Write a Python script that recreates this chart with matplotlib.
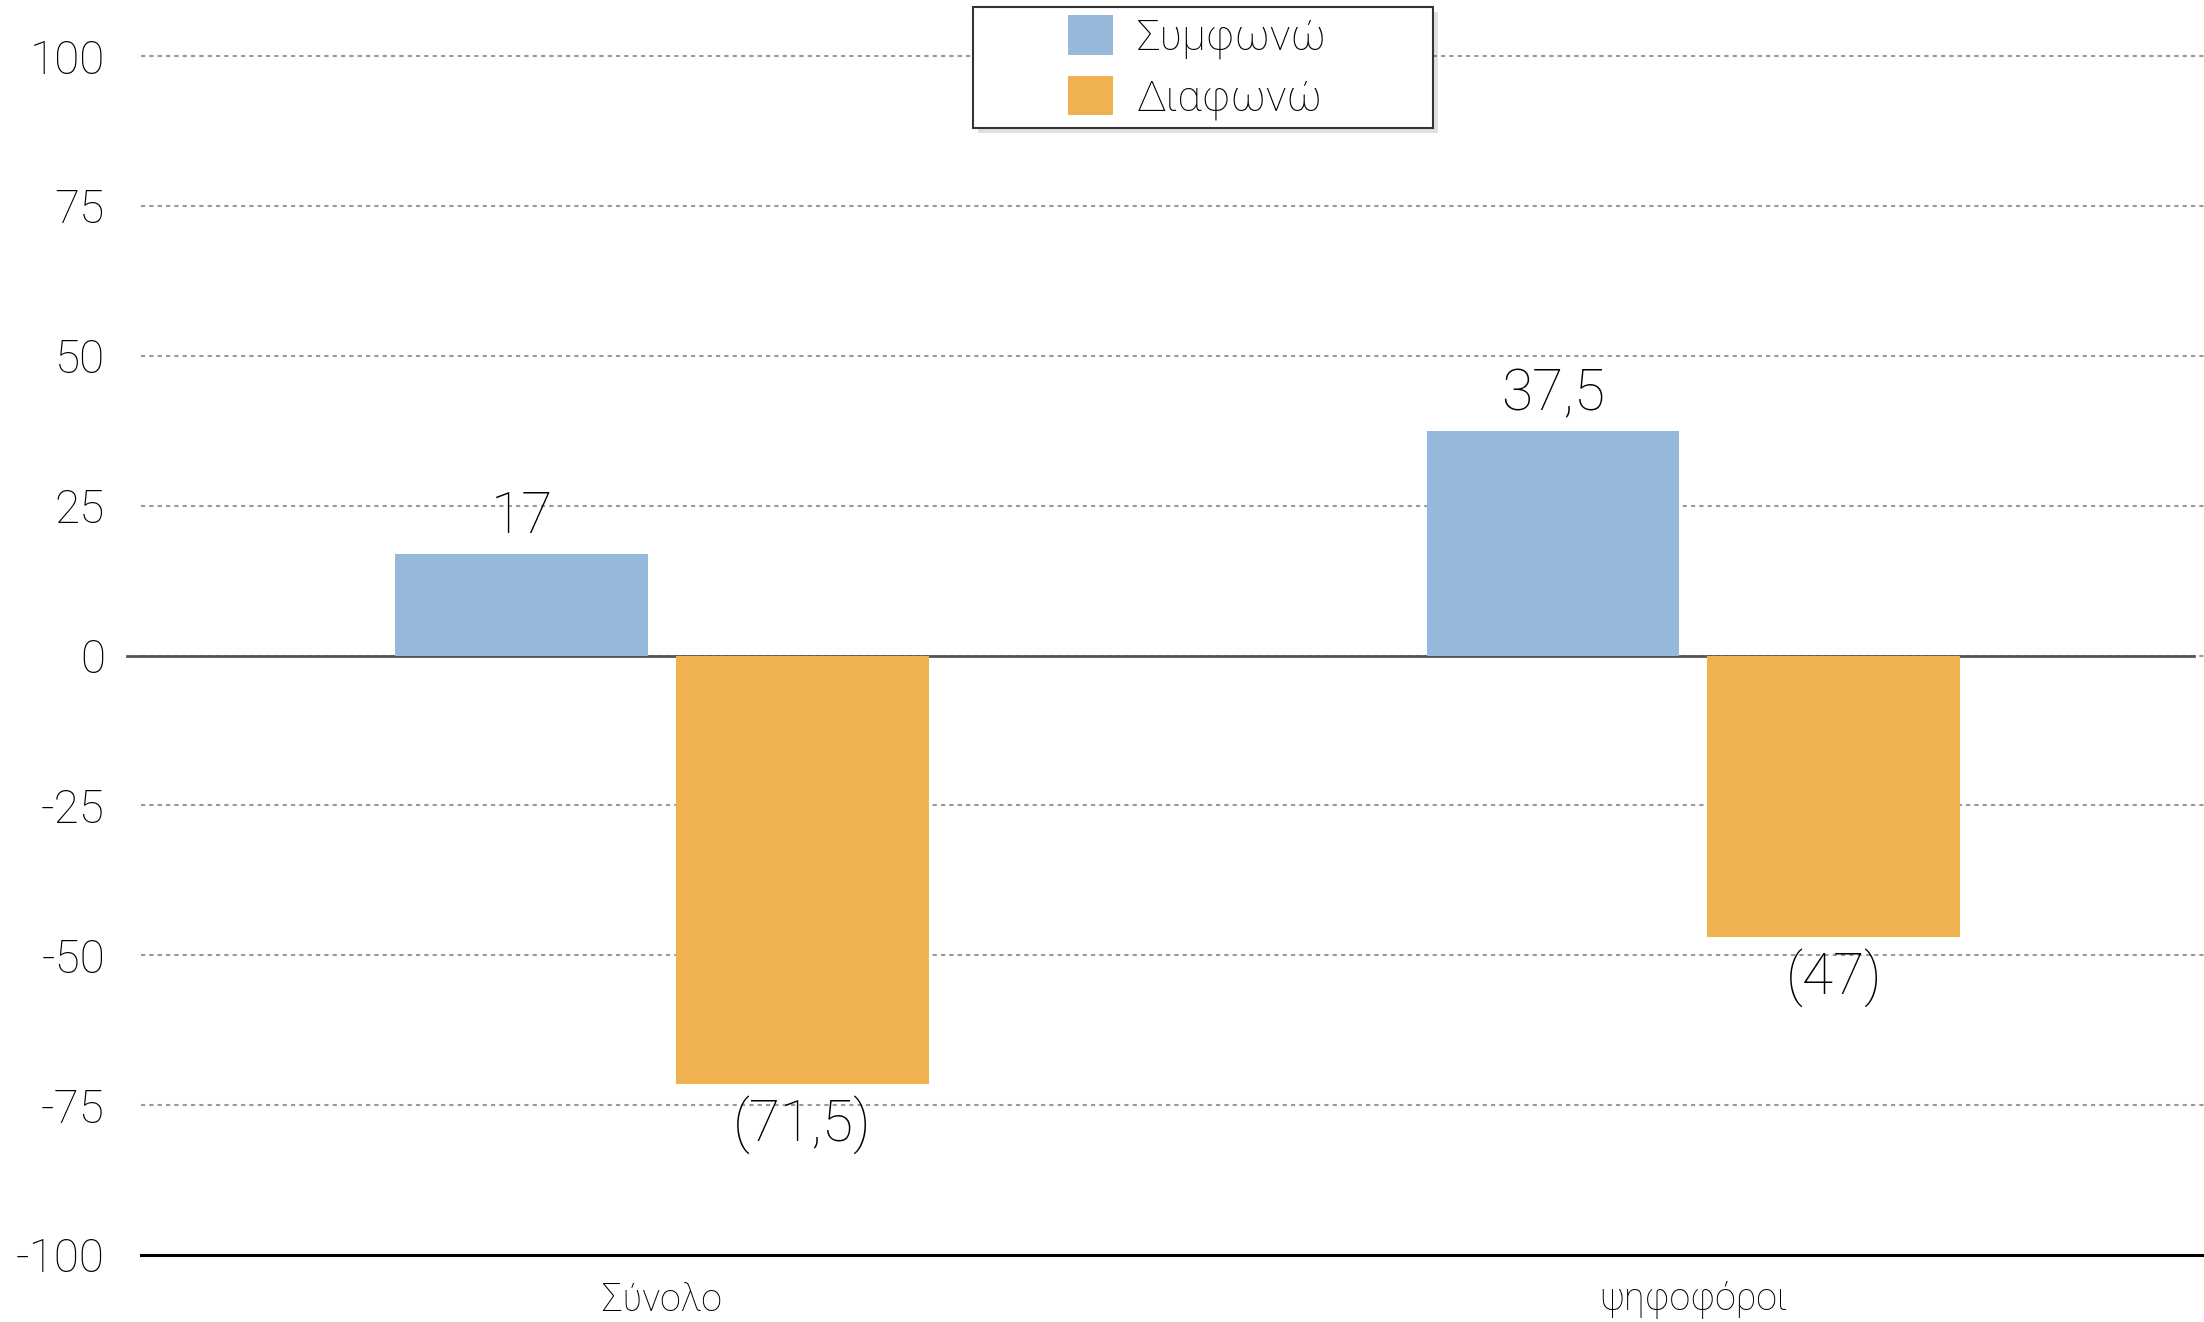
import matplotlib.pyplot as plt
from matplotlib.patches import Rectangle
import numpy as np

categories = ['Σύνολο', 'ψηφοφόροι']
agree = [17, 37.5]
disagree = [-71.5, -47]
series_names = ['Συμφωνώ', 'Διαφωνώ']
yticks = [-100, -75, -50, -25, 0, 25, 50, 75, 100]

blue = '#95b8db'
orange = '#f0b150'

plt.rcParams['font.family'] = ['Roboto', 'DejaVu Sans']
plt.rcParams['font.weight'] = 'light'


def fmt(v):
    s = ('%g' % abs(v)).replace('.', ',')
    if v < 0:
        s = '(' + s + ')'
    return s


fig = plt.figure(figsize=(22.04, 13.22), dpi=100)
ax = fig.add_axes([0.064, 0.0507, 0.936, 0.9069])

for s in ['top', 'right', 'left']:
    ax.spines[s].set_visible(False)
ax.spines['bottom'].set_color('black')
ax.spines['bottom'].set_linewidth(2.2)
ax.spines['bottom'].set_position(('data', -100))

x = np.arange(len(categories))
w = 0.245
off = 0.136
b1 = ax.bar(x - off, agree, w, color=blue, label=series_names[0], zorder=3)
b2 = ax.bar(x + off, disagree, w, color=orange, label=series_names[1], zorder=3)

for bars, vals in [(b1, agree), (b2, disagree)]:
    for r, v in zip(bars, vals):
        cx = r.get_x() + r.get_width() / 2
        if v >= 0:
            ax.annotate(fmt(v), (cx, v), xytext=(0, 6), textcoords='offset points',
                        ha='center', va='bottom', fontsize=41, zorder=4)
        else:
            ax.annotate(fmt(v), (cx, v), xytext=(0, -8), textcoords='offset points',
                        ha='center', va='top', fontsize=41, zorder=4)

ax.set_xlim(-0.505, 1.495)
ax.set_ylim(-100, 100)
ax.set_yticks(yticks)
ax.set_yticklabels([str(t) for t in yticks])
ax.set_xticks(x)
ax.set_xticklabels(categories)
ax.tick_params(axis='y', length=0, pad=26, labelsize=33)
ax.tick_params(axis='x', length=0, pad=19, labelsize=27)

for t in yticks:
    if t == -100:
        continue
    ax.axhline(t, color='#999999', lw=1.5, ls=(0, (2, 2)), zorder=1, clip_on=False)
ax.axhline(0, xmin=-0.007, xmax=0.995, color='#555555', lw=2, zorder=2, clip_on=False)

# legend box drawn by hand so it can be wider than its content
W, H = 2204, 1322
bx, by, bw, bh = 973, 7, 460, 121
fig.patches.append(Rectangle(((bx + 5) / W, 1 - (by + bh + 5) / H), bw / W, bh / H,
                             transform=fig.transFigure, facecolor='#000000', alpha=0.12,
                             edgecolor='none', zorder=9))
fig.patches.append(Rectangle((bx / W, 1 - (by + bh) / H), bw / W, bh / H,
                             transform=fig.transFigure, facecolor='white',
                             edgecolor='#333333', lw=1.5, zorder=10))
leg = fig.legend(loc='upper left', bbox_to_anchor=(1068 / W, 1 - 15 / H), fontsize=31,
                 frameon=False, handlelength=1.05, handleheight=1.05, handletextpad=0.55,
                 labelspacing=0.38, borderpad=0, borderaxespad=0)
leg.set_zorder(11)

fig.savefig('out.png', dpi=100)
